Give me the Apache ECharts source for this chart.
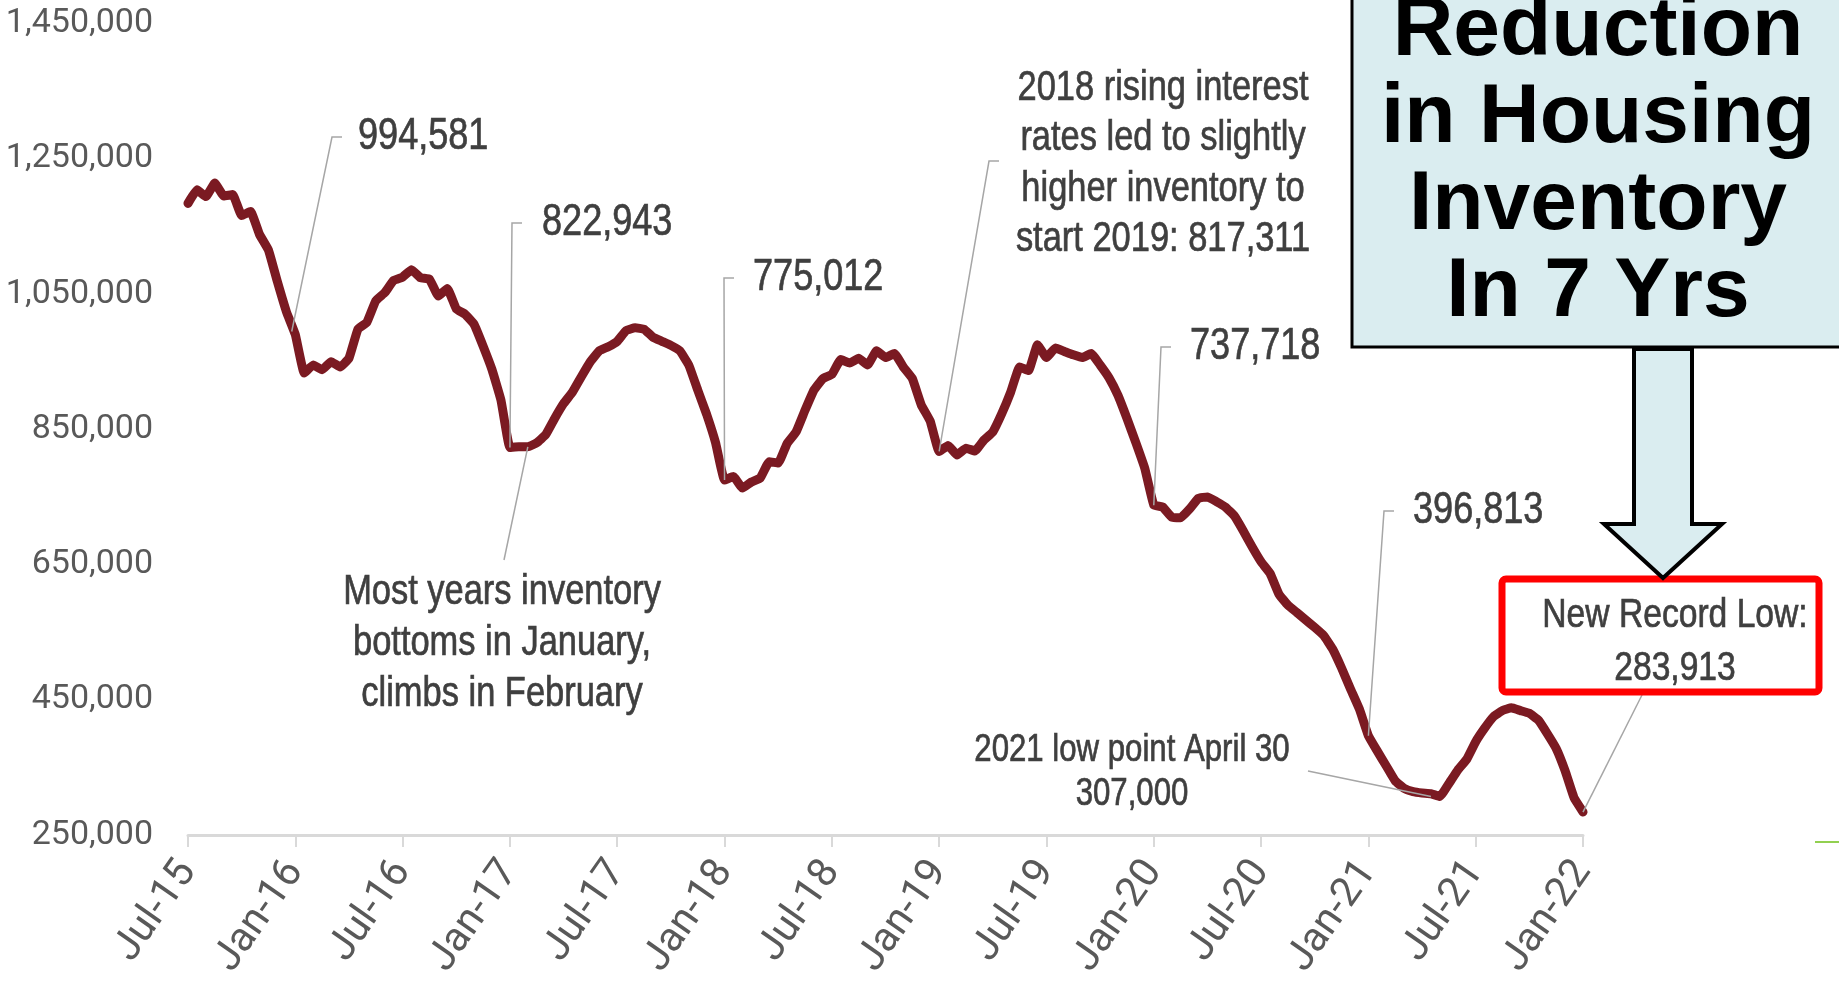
<!DOCTYPE html>
<html>
<head>
<meta charset="utf-8">
<script src="https://cdn.jsdelivr.net/npm/echarts@6/dist/echarts.min.js"></script>
<style>
  html, body { margin: 0; padding: 0; background: #fff; }
  #chart { width: 1839px; height: 984px; }
</style>
</head>
<body>
<div id="chart"></div>
<script>
// months since Jul-2015, one value every half month (Jul-15 .. Jan-22)
var stepMonths = 0.5;
var inventory = [
  1184000, 1204000, 1194000, 1214000, 1195000, 1197000, 1166000, 1172000, 1138000, 1115000,
  1068000, 1024000, 990000, 933000, 945000, 938000, 950000, 942000, 955000, 998000,
  1008000, 1040000, 1052000, 1070000, 1075000, 1086000, 1074000, 1072000, 1047000, 1058000,
  1028000, 1020000, 1005000, 973000, 938000, 893000, 823000, 824000, 824000, 830000,
  842000, 866000, 888000, 905000, 928000, 950000, 966000, 972000, 980000, 996000,
  1000000, 998000, 986000, 980000, 974000, 966000, 945000, 908000, 872000, 830000,
  775000, 780000, 763000, 772000, 778000, 802000, 800000, 829000, 846000, 878000,
  908000, 925000, 931000, 953000, 948000, 955000, 945000, 966000, 956000, 962000,
  942000, 925000, 886000, 862000, 817000, 826000, 812000, 822000, 818000, 834000,
  846000, 873000, 905000, 942000, 937000, 975000, 956000, 970000, 965000, 960000,
  956000, 962000, 945000, 926000, 900000, 866000, 830000, 792000, 738000, 735000,
  720000, 719000, 732000, 748000, 750000, 743000, 735000, 722000, 700000, 676000,
  654000, 637000, 606000, 590000, 579000, 568000, 557000, 545000, 525000, 497000,
  466000, 436000, 396800, 374000, 352000, 330000, 319000, 314000, 312000, 311000,
  307000, 326000, 346000, 362000, 388000, 408000, 425000, 434000, 438000, 434000,
  430000, 420000, 400000, 378000, 345000, 305000, 284000
];
var xTickLabels = ['Jul-15', 'Jan-16', 'Jul-16', 'Jan-17', 'Jul-17', 'Jan-18', 'Jul-18',
  'Jan-19', 'Jul-19', 'Jan-20', 'Jul-20', 'Jan-21', 'Jul-21', 'Jan-22'];
var yTicks = [250000, 450000, 650000, 850000, 1050000, 1250000, 1450000];

// annotated points: [month since Jul-15, inventory]
var notePoints = {
  jan16: [5.8, 994581],
  jan17: [18, 822943],
  jan18: [30, 775012],
  jan19: [42, 817311],
  jan20: [54, 737718],
  jan21: [66, 396813],
  low21: [69.5, 307000],
  jan22: [78, 283913],
  feb17: [19, 824000]
};

var AXIS_FONT = "Roboto, 'Liberation Sans', sans-serif";
var NOTE_FONT = "'Liberation Sans', Arial, sans-serif";
var GREY = '#595959';
var NOTE = '#3f3f3f';

var chart = echarts.init(document.getElementById('chart'));

chart.setOption({
  animation: false,
  grid: { left: 188, right: 256, top: 23.5, bottom: 149, containLabel: false, outerBoundsMode: 'none' },
  xAxis: {
    type: 'value',
    min: 0,
    max: 78,
    interval: 6,
    axisLine: { lineStyle: { color: '#d9d9d9', width: 3 } },
    axisTick: { show: true, length: 12, lineStyle: { color: '#d9d9d9', width: 2 } },
    splitLine: { show: false },
    axisLabel: {
      rotate: 55,
      margin: 30,
      color: GREY,
      fontSize: 41,
      fontFamily: AXIS_FONT,
      formatter: function (v) { return xTickLabels[Math.round(v / 6)]; }
    }
  },
  yAxis: {
    type: 'value',
    min: yTicks[0],
    max: yTicks[yTicks.length - 1],
    interval: 200000,
    axisLine: { show: false },
    axisTick: { show: false },
    splitLine: { show: false },
    axisLabel: {
      margin: 35,
      color: GREY,
      fontSize: 34,
      fontFamily: AXIS_FONT,
      formatter: function (v) { return v.toLocaleString('en-US'); }
    }
  },
  series: [{
    type: 'line',
    showSymbol: false,
    smooth: 0.1,
    lineStyle: { color: '#7b1a22', width: 9, join: 'round', cap: 'round' },
    data: inventory.map(function (v, i) { return [i * stepMonths, v]; })
  }]
});

function px(key) {
  return chart.convertToPixel({ gridIndex: 0 }, notePoints[key]);
}

var leaderStyle = { stroke: '#a6a6a6', lineWidth: 1.5, fill: null };

// narrow annotation text: Liberation Sans squeezed horizontally
function label(text, x, y, align, lh, size) {
  return {
    type: 'text', z: 10,
    x: x, y: y, scaleX: 0.82,
    style: {
      text: text, x: 0, y: 0, fill: NOTE,
      stroke: NOTE, lineWidth: 0.7,
      fontSize: size || 42, fontFamily: NOTE_FONT,
      align: align || 'left', verticalAlign: 'middle',
      lineHeight: lh || 50
    }
  };
}

function stubLeader(x0, y0, key) {
  var p = px(key);
  return {
    type: 'polyline', z: 9,
    shape: { points: [[x0 + 10, y0], [x0, y0], p] },
    style: leaderStyle
  };
}

function lineLeader(x0, y0, key) {
  var p = px(key);
  return {
    type: 'line', z: 9,
    shape: { x1: x0, y1: y0, x2: p[0], y2: p[1] },
    style: leaderStyle
  };
}

var graphics = [
  stubLeader(332, 137, 'jan16'), label('994,581', 358, 137, 'left', 50, 44),
  stubLeader(512, 223, 'jan17'), label('822,943', 542, 223, 'left', 50, 44),
  stubLeader(724, 278, 'jan18'), label('775,012', 753, 278, 'left', 50, 44),
  stubLeader(989, 161, 'jan19'),
  label('2018 rising interest\nrates led to slightly\nhigher inventory to\nstart 2019: 817,311', 1163, 164, 'center', 50.5),
  stubLeader(1161, 347, 'jan20'), label('737,718', 1190, 347, 'left', 50, 44),
  stubLeader(1384, 511, 'jan21'), label('396,813', 1413, 511, 'left', 50, 44),
  lineLeader(504, 560, 'feb17'),
  label('Most years inventory\nbottoms in January,\nclimbs in February', 502, 643, 'center', 51),
  lineLeader(1308, 771, 'low21'),
  label('2021 low point April 30\n307,000', 1132, 773, 'center', 44, 38),
  lineLeader(1642, 695, 'jan22'),

  // red record-low box
  {
    type: 'rect', z: 11,
    shape: { x: 1502, y: 579, width: 317, height: 113, r: 4 },
    style: { fill: 'rgba(255,255,255,0)', stroke: '#ff0000', lineWidth: 7 }
  },
  label('New Record Low:\n283,913', 1675, 642, 'center', 53, 41),

  // headline box and arrow
  {
    type: 'rect', z: 12,
    shape: { x: 1352, y: -10, width: 520, height: 357 },
    style: { fill: '#daedf0', stroke: '#000', lineWidth: 3 }
  },
  {
    type: 'text', z: 13,
    style: {
      text: 'Reduction\nin Housing\nInventory\nIn 7 Yrs',
      x: 1598, y: 162, fill: '#000',
      fontSize: 84, fontWeight: 'bold', fontFamily: "'Liberation Sans', Arial, sans-serif",
      align: 'center', verticalAlign: 'middle', lineHeight: 87
    }
  },
  {
    type: 'polygon', z: 12,
    shape: { points: [[1634, 349], [1692, 349], [1692, 524], [1722, 524], [1663, 578], [1604, 524], [1634, 524]] },
    style: { fill: '#daedf0', stroke: '#000', lineWidth: 4, lineJoin: 'miter' }
  },
  {
    type: 'line', z: 12,
    shape: { x1: 1815, y1: 842, x2: 1839, y2: 842 },
    style: { stroke: '#92d050', lineWidth: 2 }
  }
];

chart.setOption({ graphic: graphics });
</script>
</body>
</html>
